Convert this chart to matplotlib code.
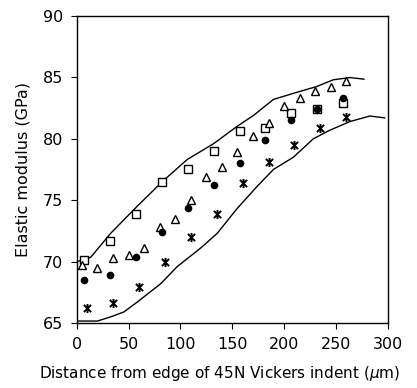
import matplotlib
matplotlib.use("Agg")
import matplotlib.pyplot as plt
from matplotlib.path import Path

# Data series
sq_x = [7, 32, 57, 82, 107, 132, 157, 182, 207, 232, 257]
sq_y = [70.1, 71.7, 73.9, 76.5, 77.5, 79.0, 80.6, 80.9, 82.1, 82.4, 82.9]

tri_x = [5, 20, 35, 50, 65, 80, 95, 110, 125, 140, 155, 170, 185, 200, 215, 230, 245, 260]
tri_y = [69.7, 69.5, 70.3, 70.5, 71.1, 72.8, 73.5, 75.0, 76.9, 77.7, 78.95, 80.2, 81.3, 82.7, 83.3, 83.9, 84.2, 84.7]

circ_x = [7, 32, 57, 82, 107, 132, 157, 182, 207, 232, 257]
circ_y = [68.5, 68.9, 70.4, 72.4, 74.4, 76.2, 78.05, 79.9, 81.5, 82.4, 83.35]

ast_x = [10, 35, 60, 85, 110, 135, 160, 185, 210, 235, 260]
ast_y = [66.2, 66.6, 67.9, 70.0, 72.0, 73.9, 76.4, 78.1, 79.5, 80.85, 81.75]

upper_x = [0.6, 13.5, 32.7, 58.3, 82.4, 106.4, 132, 154.5, 170.5, 189.7, 209, 231.4, 247.4, 263.5, 277]
upper_y = [70.0, 70.35, 72.3, 74.5, 76.5, 78.3, 79.6, 81.0, 81.9, 83.2, 83.7, 84.25, 84.8, 84.98, 84.85]

lower_x = [0.6, 19.9, 32.7, 45.5, 58.3, 81, 97, 119.5, 135.5, 154.5, 173.7, 189.7, 209, 228.2, 244.2, 263.5, 282.7, 297]
lower_y = [65.16, 65.16, 65.5, 65.9, 66.7, 68.2, 69.6, 71.1, 72.3, 74.3, 76.1, 77.5, 78.5, 80.0, 80.7, 81.4, 81.85, 81.7]

x_ticks = [0, 50, 100, 150, 200, 250, 300]
y_ticks = [65, 70, 75, 80, 85, 90]

# "Ж"-like asterisk marker: vertical bar plus an X
ast_marker = Path(
    [(0, -1), (0, 1), (-0.8, -0.8), (0.8, 0.8), (-0.8, 0.8), (0.8, -0.8)],
    [Path.MOVETO, Path.LINETO, Path.MOVETO, Path.LINETO, Path.MOVETO, Path.LINETO],
)

fig = plt.figure(figsize=(4.17, 3.88), dpi=100)
ax = fig.add_axes([0.184, 0.1675, 0.746, 0.7915])

ax.plot(upper_x, upper_y, color='black', lw=1.0)
ax.plot(lower_x, lower_y, color='black', lw=1.0)

ax.plot(sq_x, sq_y, linestyle='none', marker='s', ms=5.5, mfc='white', mec='black', mew=1.0)
ax.plot(tri_x, tri_y, linestyle='none', marker='^', ms=6, mfc='white', mec='black', mew=1.0)
ax.plot(circ_x, circ_y, linestyle='none', marker='o', ms=4.5, mfc='black', mec='black')
ax.plot(ast_x, ast_y, linestyle='none', marker=ast_marker, ms=6.5, mec='black', mew=1.4)

ax.set_xlim(0, 300)
ax.set_ylim(65, 90)
ax.set_xticks(x_ticks)
ax.set_yticks(y_ticks)
ax.tick_params(direction='out', length=4, width=0.8, labelsize=11.5, pad=6)
for s in ax.spines.values():
    s.set_linewidth(1.0)

ax.set_xlabel('Distance from edge of 45N Vickers indent ($\\mu$m)', fontsize=11)
ax.xaxis.set_label_coords(0.46, -0.135)
ax.set_ylabel('Elastic modulus (GPa)', fontsize=11.5)
ax.yaxis.set_label_coords(-0.15, 0.5)

fig.savefig('out.png', dpi=100)
